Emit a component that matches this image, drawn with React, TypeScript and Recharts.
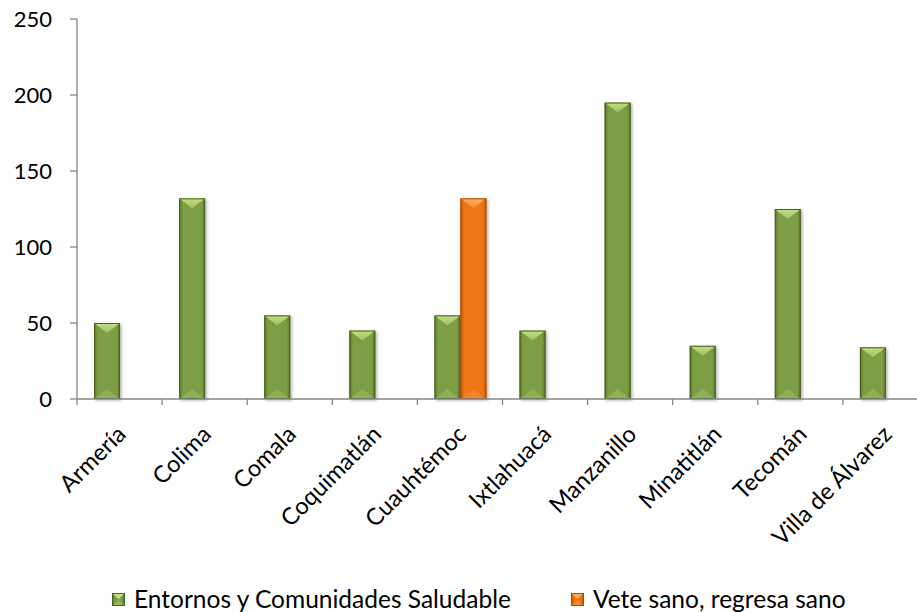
import React from 'react';
import { BarChart, Bar, XAxis, YAxis, Legend } from 'recharts';

const categories = ['Armería', 'Colima', 'Comala', 'Coquimatlán', 'Cuauhtémoc', 'Ixtlahuacá', 'Manzanillo', 'Minatitlán', 'Tecomán', 'Villa de Álvarez'];
const entornos = [50, 132, 55, 45, 55, 45, 195, 35, 125, 34];
const veteSano: (number | null)[] = [null, null, null, null, 132, null, null, null, null, null];
const yTicks = [0, 50, 100, 150, 200, 250];
const seriesNames = ['Entornos y Comunidades Saludable', 'Vete sano, regresa sano'];

const data = categories.map((c, i) => ({ name: c, entornos: entornos[i], vete: veteSano[i] }));

const FONT = 'Lato, "Noto Sans", sans-serif';
const AXIS = '#868686';

const palette: Record<string, { body: string; edge: string; top: string; topDark: string; line: string }> = {
  green: { body: '#7e9e44', edge: '#56722a', top: '#c4e288', topDark: '#9cbf5a', line: '#4a6220' },
  orange: { body: '#ef7412', edge: '#c0580a', top: '#fbb06a', topDark: '#f48a2e', line: '#a94b06' },
};

const Bevel = ({ x, y, width: w, height: h, kind }: any) => {
  if (!h || h <= 0 || !w) return null;
  const p = palette[kind];
  const b = Math.min(w * 0.42, 10, h / 2);
  return (
    <g filter="url(#shadow)">
      <rect x={x} y={y} width={w} height={h} fill={`url(#body-${kind})`} />
      <polygon points={`${x},${y} ${x + w},${y} ${x + w / 2},${y + b}`} fill={`url(#top-${kind})`} />
      <polygon points={`${x},${y + h} ${x + w},${y + h} ${x + w / 2},${y + h - b}`} fill={p.top} opacity={0.25} />
      <rect x={x + 0.5} y={y + 0.5} width={w - 1} height={h - 1} fill="none" stroke={p.line} strokeWidth={1} />
    </g>
  );
};

const XTick = (props: any) => {
  const { x, y, payload, index } = props;
  const off = payload.offset ?? 0;
  const last = index === categories.length - 1;
  return (
    <g>
      <line x1={x - off} x2={x - off} y1={y} y2={y + 6} stroke={AXIS} strokeWidth={1.3} />
      {last && <line x1={x + off} x2={x + off} y1={y} y2={y + 6} stroke={AXIS} strokeWidth={1.3} />}
      <text
        x={x + 2}
        y={y + 31}
        transform={`rotate(-45, ${x + 2}, ${y + 31})`}
        textAnchor="end"
        dy="0.35em"
        fontFamily={FONT}
        fontSize={23.5}
        fill="#000"
      >
        {payload.value}
      </text>
    </g>
  );
};

const Icon = ({ kind }: { kind: string }) => (
  <svg width={13} height={13} style={{ display: 'block' }}>
    <defs>
      <linearGradient id={`lb-${kind}`} x1="0" y1="0" x2="1" y2="0">
        <stop offset="0" stopColor={palette[kind].edge} />
        <stop offset="0.25" stopColor={palette[kind].body} />
        <stop offset="0.75" stopColor={palette[kind].body} />
        <stop offset="1" stopColor={palette[kind].edge} />
      </linearGradient>
    </defs>
    <rect x={0} y={0} width={13} height={13} fill={`url(#lb-${kind})`} />
    <polygon points="0,0 13,0 6.5,6" fill={palette[kind].top} />
    <polygon points="0,13 13,13 6.5,7" fill={palette[kind].top} opacity={0.4} />
    <rect x={0.5} y={0.5} width={12} height={12} fill="none" stroke={palette[kind].line} />
  </svg>
);

const LegendContent = () => (
  <div style={{ position: 'relative', height: 30, width: 940, fontFamily: FONT, fontSize: 24.5, color: '#000' }}>
    {[
      { kind: 'green', left: 112, label: seriesNames[0] },
      { kind: 'orange', left: 571, label: seriesNames[1] },
    ].map((it) => (
      <div key={it.kind} style={{ position: 'absolute', left: it.left, top: 0, height: 30, display: 'flex', alignItems: 'center', whiteSpace: 'nowrap' }}>
        <div style={{ marginTop: 4 }}><Icon kind={it.kind} /></div>
        <span style={{ marginLeft: 9, lineHeight: '30px', marginTop: 3 }}>{it.label}</span>
      </div>
    ))}
  </div>
);

export default function App() {
  return (
    <div style={{ position: 'absolute', left: 0, top: 0, width: 917, height: 612, overflow: 'hidden', background: '#fff' }}>
      <BarChart
        width={940}
        height={612}
        data={data}
        margin={{ top: 19, right: 12, left: 0, bottom: 0 }}
        barCategoryGap="20%"
        barGap={0}
      >
        <defs>
          {Object.keys(palette).map((k) => (
            <React.Fragment key={k}>
              <linearGradient id={`body-${k}`} x1="0" y1="0" x2="1" y2="0">
                <stop offset="0" stopColor={palette[k].edge} />
                <stop offset="0.14" stopColor={palette[k].body} />
                <stop offset="0.86" stopColor={palette[k].body} />
                <stop offset="1" stopColor={palette[k].edge} />
              </linearGradient>
              <linearGradient id={`top-${k}`} x1="0" y1="0" x2="0" y2="1">
                <stop offset="0" stopColor={palette[k].top} />
                <stop offset="1" stopColor={palette[k].topDark} />
              </linearGradient>
            </React.Fragment>
          ))}
          <filter id="shadow" x="-30%" y="-10%" width="160%" height="120%">
            <feDropShadow dx="1.5" dy="1.5" stdDeviation="1.5" floodColor="#000" floodOpacity="0.3" />
          </filter>
        </defs>
        <XAxis
          dataKey="name"
          interval={0}
          height={183}
          tickLine={false}
          tickSize={0}
          tickMargin={0}
          axisLine={{ stroke: AXIS, strokeWidth: 1.3 }}
          tick={<XTick />}
        />
        <YAxis
          domain={[0, 250]}
          ticks={yTicks}
          width={77}
          tickSize={7}
          tickMargin={18}
          axisLine={{ stroke: AXIS, strokeWidth: 1.3 }}
          tickLine={{ stroke: AXIS, strokeWidth: 1.3 }}
          tick={{ fontFamily: FONT, fontSize: 22, fill: '#000' }}
        />
        <Legend verticalAlign="bottom" align="left" height={30} wrapperStyle={{ left: 0, width: 940 }} content={<LegendContent />} />
        <Bar dataKey="entornos" name={seriesNames[0]} isAnimationActive={false} shape={(p: any) => <Bevel {...p} kind="green" />} />
        <Bar dataKey="vete" name={seriesNames[1]} isAnimationActive={false} shape={(p: any) => <Bevel {...p} kind="orange" />} />
      </BarChart>
    </div>
  );
}
